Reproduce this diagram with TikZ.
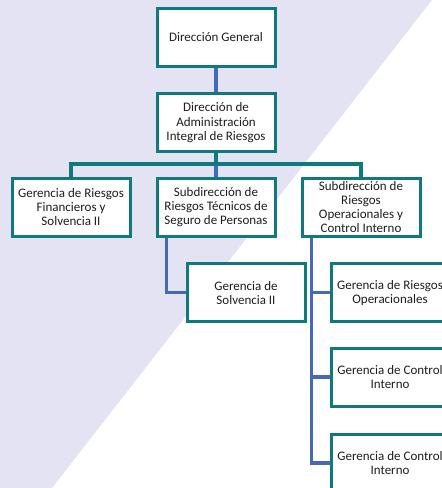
\documentclass[tikz,border=0pt]{standalone}
\usepackage{fontspec}
\setmainfont{Carlito}
\usetikzlibrary{calc,backgrounds}
\definecolor{bgl}{HTML}{E3E3F4}
\definecolor{tealb}{HTML}{0E7A80}
\definecolor{bluec}{HTML}{4468BC}
\definecolor{txt}{HTML}{1E1E1E}
\begin{document}
\begin{tikzpicture}[x=1pt,y=-1pt,
  orgbox/.style={draw=tealb, line width=3pt, fill=white, minimum width=118pt, minimum height=58pt, inner sep=0pt, align=center, text=txt, font=\fontsize{13}{14.3}\selectfont},
  tealline/.style={draw=tealb, line width=3.2pt},
  blueline/.style={draw=bluec, line width=3.2pt}]
\useasboundingbox (0,0) rectangle (442,488);
\clip (0,0) rectangle (442,488);
\node[orgbox] (dg) at (216,37.5) {Dirección General};
\node[orgbox] (dair) at (216,122.7) {Dirección de\\Administración\\Integral de Riesgos};
\node[orgbox] (grf) at (71,207) {Gerencia de Riesgos\\Financieros y\\Solvencia II};
\node[orgbox] (srt) at (216,207) {Subdirección de\\Riesgos Técnicos de\\Seguro de Personas};
\node[orgbox] (sro) at (361,207) {Subdirección de\\Riesgos\\Operacionales y\\Control Interno};
\node[orgbox] (gs) at (246,292.7) {Gerencia de\\Solvencia II};
\node[orgbox] (gro) at (390,292.7) {Gerencia de Riesgos\\Operacionales};
\node[orgbox] (gci1) at (390,377) {Gerencia de Control\\Interno};
\node[orgbox] (gci2) at (390,463) {Gerencia de Control\\Interno};
\begin{pgfonlayer}{background}
\fill[bgl] (0,0) -- (432,0) -- (52,488) -- (0,488) -- cycle;
\coordinate (bus) at (216,164);
\draw[blueline] (dg) -- (dair);
\draw[tealline] (dair.south) -- (bus);
\draw[blueline] (bus) -- (srt.north);
\draw[tealline] (grf.north) |- (bus) -| (sro.north);
\coordinate (srtleg) at ($(srt.south west)+(11,0)$);
\coordinate (sroleg) at ($(sro.south west)+(11,0)$);
\draw[blueline] (srtleg) |- (gs.west);
\draw[blueline] (sroleg) |- (gro.west);
\draw[blueline] (sroleg) |- (gci1.west);
\draw[blueline] (sroleg) |- (gci2.west);
\end{pgfonlayer}
\end{tikzpicture}
\end{document}
